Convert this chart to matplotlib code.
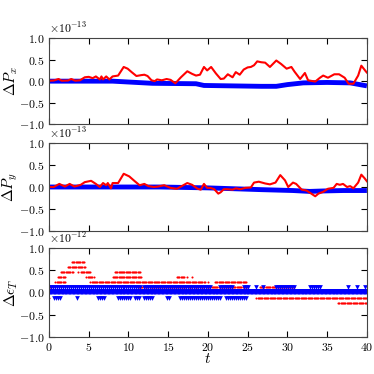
import matplotlib
matplotlib.use('Agg')
import matplotlib.pyplot as plt
import numpy as np

plt.rcParams['font.family'] = 'serif'
plt.rcParams['font.serif'] = ['cmr10', 'DejaVu Serif']
plt.rcParams['mathtext.fontset'] = 'cm'
plt.rcParams['axes.formatter.use_mathtext'] = True
plt.rcParams['font.size'] = 8.5

# momentum error in x (units of 1e-13)
px_t = [0, 0.6, 1.2, 1.6, 2.4, 2.8, 3.3, 3.9, 4.5, 5.0, 5.5, 5.9, 6.4, 6.6, 6.8, 7.2, 7.6,
        8.0, 8.7, 9.4, 9.9, 10.4, 11.0, 11.6, 12.0, 12.4, 12.9, 13.3, 13.6, 14.2, 14.8, 15.3,
        15.9, 16.6, 17.4, 18.0, 18.5, 19.0, 19.5, 19.9, 20.4, 21.0, 21.6, 22.0, 22.5, 23.1,
        23.5, 24.0, 24.5, 25.0, 25.4, 25.8, 26.2, 26.7, 27.2, 27.8, 28.6, 29.2, 29.9, 30.5,
        30.9, 31.6, 32.2, 32.6, 33.5, 34.1, 34.5, 35.1, 35.9, 36.5, 37.2, 37.7, 38.3, 38.9,
        39.3, 39.9, 40]
px_red = [0.01, 0.015, 0.05, 0.01, 0.015, 0.05, 0.01, 0.02, 0.09, 0.1, 0.07, 0.11, 0.04, 0.11,
          0.04, 0.11, 0.04, 0.11, 0.13, 0.33, 0.29, 0.21, 0.12, 0.14, 0.15, 0.12, 0.02, 0.0,
          0.04, 0.02, 0.05, 0.03, -0.05, 0.09, 0.23, 0.17, 0.13, 0.15, 0.33, 0.25, 0.33, 0.18,
          0.05, 0.06, 0.16, 0.09, 0.21, 0.15, 0.27, 0.32, 0.33, 0.37, 0.46, 0.44, 0.43, 0.33,
          0.48, 0.4, 0.29, 0.33, 0.22, 0.05, 0.19, 0.02, -0.01, 0.08, 0.13, 0.08, 0.16, 0.16,
          0.08, -0.06, -0.06, 0.13, 0.36, 0.22, 0.2]
px_blue_t = [0, 8, 10, 13, 18.5, 19.5, 26.7, 28.6, 30, 32, 35, 37.9, 40]
px_blue = [0, 0, -0.02, -0.05, -0.06, -0.1, -0.12, -0.12, -0.08, -0.04, -0.03, -0.04, -0.11]

# momentum error in y (units of 1e-13)
py_t = [0, 0.6, 1.3, 2.0, 2.6, 3.2, 4.0, 4.5, 5.3, 5.9, 6.4, 6.8, 7.2, 7.4, 7.8, 8.0, 8.7, 9.4,
        10.1, 10.8, 11.4, 12.0, 12.5, 13.2, 13.7, 14.5, 15.3, 16.1, 16.7, 17.4, 18.0, 18.7,
        19.1, 19.5, 19.9, 20.3, 20.8, 21.3, 21.6, 22.0, 22.4, 23.1, 23.5, 24.1, 24.7, 25.4,
        25.8, 26.4, 26.8, 27.2, 27.8, 28.5, 29.1, 29.7, 30.1, 30.7, 31.1, 31.8, 32.4, 33.0,
        33.5, 33.9, 34.5, 35.1, 35.8, 36.2, 36.6, 37.0, 37.5, 37.9, 38.3, 38.9, 39.3, 39.7, 40]
py_red = [0, 0.0, 0.07, 0.01, 0.07, 0.01, 0.05, 0.11, 0.14, 0.07, 0.0, 0.09, 0.04, 0.09, -0.03,
          0.09, 0.09, 0.3, 0.24, 0.13, 0.04, 0.07, 0.02, 0.0, 0.01, 0.04, -0.02, -0.04, 0.02,
          0.09, 0.05, -0.04, -0.06, 0.07, -0.02, -0.02, -0.05, -0.15, -0.12, -0.05, -0.05,
          -0.06, -0.03, -0.05, -0.02, -0.01, 0.1, 0.12, 0.1, 0.08, 0.06, 0.1, 0.27, 0.15, 0.0,
          0.1, 0.07, -0.06, -0.08, -0.15, -0.21, -0.15, -0.11, -0.04, -0.02, 0.07, 0.05, 0.07,
          0.0, 0.02, -0.03, 0.1, 0.28, 0.2, 0.13]
py_blue_t = [0, 14, 20, 26.7, 30.7, 32.8, 34.5, 37, 40]
py_blue = [0, 0, -0.02, -0.06, -0.08, -0.1, -0.09, -0.08, -0.08]

# energy error: runs of samples on quantized levels (level, t_start, t_end)
EPS_STEP = 2.0 ** -43
red_runs = [(6, 2.9, 4.4), (5, 2.4, 4.5), (4, 1.5, 3.1), (4, 3.7, 3.7), (4, 4.0, 5.2),
            (4, 8.3, 11.5), (3, 1.1, 2.0), (3, 4.7, 5.6), (3, 8.0, 11.6), (3, 16.1, 17.0),
            (3, 17.4, 17.4), (3, 18.0, 18.0), (2, 0.8, 2.0), (2, 5.2, 19.6), (2, 20.0, 20.0),
            (2, 20.9, 24.9), (1, 0.0, 0.5), (1, 11.0, 25.0), (1, 26.5, 30.9), (0, 0.0, 40.0),
            (-1, 0.0, 0.0), (-1, 26.1, 40.0), (-2, 36.4, 40.0)]
blue_band = [(0, 0.0, 40.0)]
blue_runs = [(1, 0.0, 11.5), (1, 12.0, 20.3), (1, 21.5, 23.2), (1, 24.5, 25.1),
             (1, 26.1, 26.1), (1, 26.9, 26.9), (1, 28.6, 31.0), (1, 32.8, 34.2), (1, 37.6, 37.8),
             (1, 38.7, 38.7), (1, 39.7, 39.7), (-1, 0.6, 1.4), (-1, 3.5, 3.5), (-1, 6.2, 7.0),
             (-1, 8.7, 10.2), (-1, 10.8, 11.4), (-1, 11.9, 12.9), (-1, 14.8, 15.2),
             (-1, 16.5, 21.5), (-1, 22.3, 25.0)]


def expand(runs, dt):
    ts, vs = [], []
    for lev, t0, t1 in runs:
        tt = np.arange(t0, t1 + 1e-9, dt)
        ts.extend(tt)
        vs.extend([lev * EPS_STEP] * len(tt))
    return np.array(ts), np.array(vs)


fig = plt.figure(figsize=(3.74, 3.74), dpi=100)
ax1 = fig.add_axes([0.131, 0.668, 0.85, 0.23])
ax2 = fig.add_axes([0.131, 0.382, 0.85, 0.236])
ax3 = fig.add_axes([0.131, 0.099, 0.85, 0.238])

ax1.plot(px_blue_t, np.array(px_blue) * 1e-13, color='b', lw=3.5, solid_capstyle='butt')
ax1.plot(px_t, np.array(px_red) * 1e-13, color='r', lw=1.5)
ax2.plot(py_blue_t, np.array(py_blue) * 1e-13, color='b', lw=3.5, solid_capstyle='butt')
ax2.plot(py_t, np.array(py_red) * 1e-13, color='r', lw=1.5)

rt, rv = expand(red_runs, 0.15)
bt, bv = expand(blue_runs, 0.25)
zt, zv = expand(blue_band, 0.1)
ax3.plot(rt, rv, '.', color='r', ms=3, mew=0)
ax3.plot(zt, zv, 'v', color='b', ms=4.5, mew=0)
ax3.plot(bt, bv, 'v', color='b', ms=3.4, mew=0)

for ax, lim, lab in [(ax1, 1e-13, r'$\Delta P_x$'), (ax2, 1e-13, r'$\Delta P_y$'),
                     (ax3, 1e-12, r'$\Delta \epsilon_T$')]:
    ax.set_xlim(0, 40)
    ax.set_ylim(-lim, lim)
    ax.set_yticks(np.array([-1, -0.5, 0, 0.5, 1]) * lim)
    ax.set_xticks(range(0, 41, 5))
    ax.tick_params(direction='in', top=True, right=True, length=4, labelsize=8.5, pad=3)
    ax.set_ylabel(lab, fontsize=11)
    ax.yaxis.set_label_coords(-0.09, 0.5)
    for s in ax.spines.values():
        s.set_color('#444444')

ax1.tick_params(labelbottom=False)
ax2.tick_params(labelbottom=False)
ax3.set_xlabel(r'$t$', fontsize=11, labelpad=-1)

fig.savefig('out.png', dpi=100)
